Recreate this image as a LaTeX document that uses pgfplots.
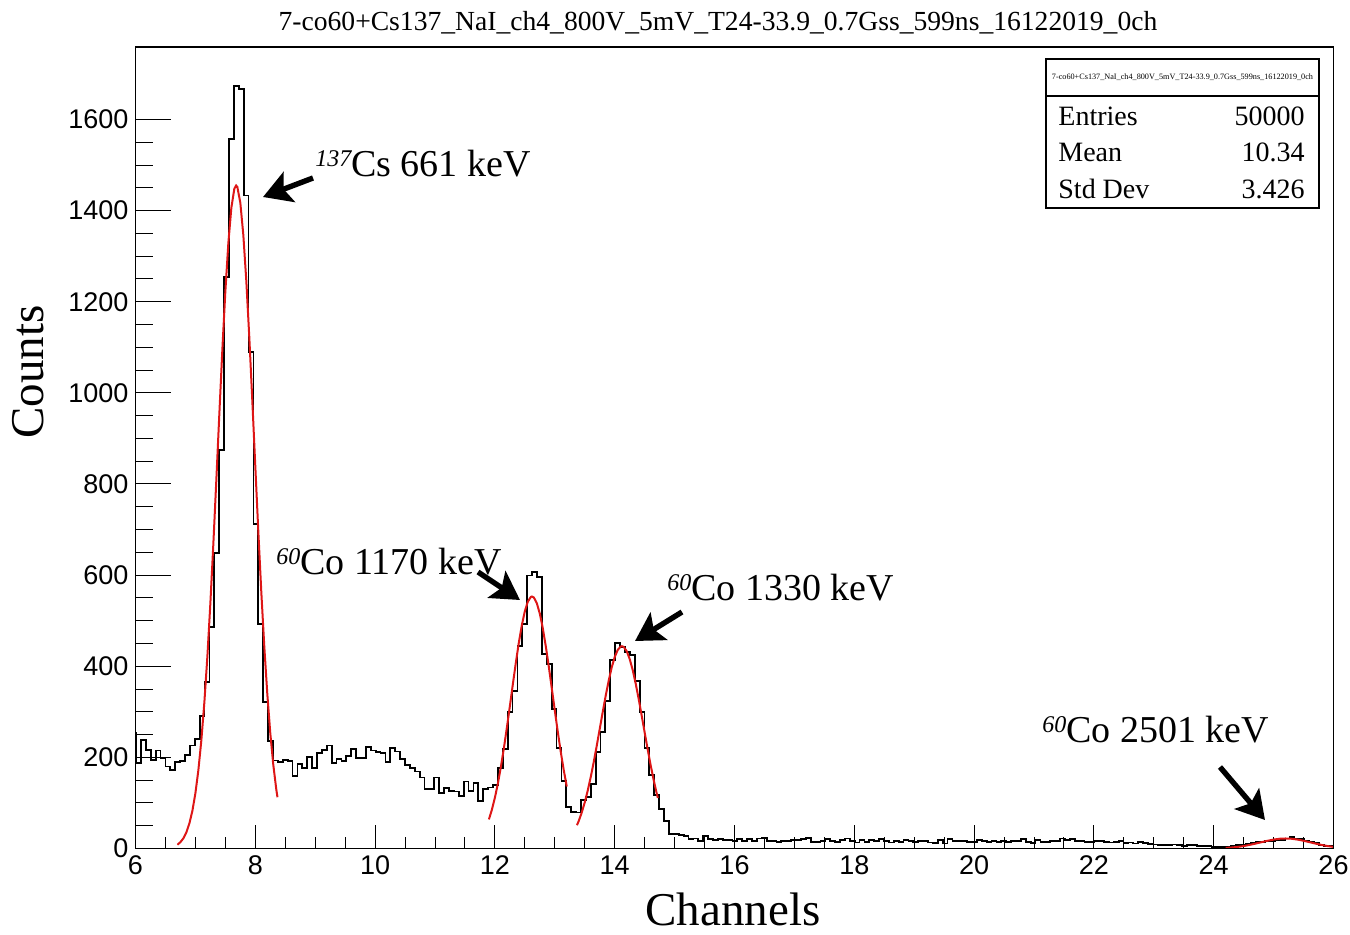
\documentclass[border=0pt]{standalone}
\usepackage{pgfplots}
\pgfplotsset{compat=1.18}
\usepackage{pgfplotstable}
\usepackage{fontspec}
\setmainfont{Liberation Serif}
\newfontfamily\sansf{Liberation Sans}
\usetikzlibrary{arrows.meta}
\definecolor{fitred}{RGB}{222,22,22}

\pgfplotstableread{
k c
-1 254
0 187
1 238
2 216
3 194
4 215
5 198
6 180
7 172
8 189
9 192
10 205
11 226
12 240
13 291
14 365
15 487
16 648
17 875
18 1254
19 1557
20 1674
21 1667
22 1433
23 1090
24 713
25 493
26 321
27 236
28 193
29 190
30 194
31 192
32 159
33 185
34 176
35 200
36 176
37 209
38 216
39 226
40 187
41 196
42 192
43 203
44 218
45 198
46 198
47 222
48 215
49 212
50 209
51 190
52 220
53 213
54 196
55 183
56 176
57 169
58 156
59 130
60 130
61 156
62 121
63 132
64 127
65 125
66 116
67 147
68 127
69 143
70 105
71 131
72 134
73 139
74 177
75 219
76 299
77 345
78 444
79 493
80 599
81 607
82 595
83 427
84 405
85 307
86 221
87 148
88 91
89 80
90 79
91 106
92 113
93 142
94 212
95 256
96 323
97 413
98 451
99 442
100 431
101 424
102 367
103 299
104 221
105 161
106 117
107 86
108 60
109 31
110 31
111 29
112 28
113 20
114 22
115 17
116 28
117 21
118 19
119 20
120 18
121 18
122 17
123 20
124 17
125 21
126 16
127 22
128 23
129 17
130 16
131 14
132 17
133 16
134 19
135 18
136 20
137 23
138 14
139 15
140 16
141 21
142 17
143 15
144 18
145 22
146 17
147 13
148 18
149 15
150 19
151 16
152 20
153 17
154 13
155 16
156 14
157 19
158 17
159 15
160 16
161 17
162 13
163 12
164 18
165 11
166 20
167 17
168 16
169 17
170 15
171 14
172 18
173 16
174 15
175 17
176 15
177 16
178 14
179 17
180 16
181 21
182 15
183 12
184 19
185 15
186 14
187 17
188 16
189 22
190 18
191 21
192 16
193 17
194 14
195 15
196 17
197 16
198 15
199 13
200 14
201 16
202 12
203 13
204 11
205 14
206 12
207 10
208 9
209 8
210 7
211 8
212 9
213 7
214 6
215 7
216 8
217 5
218 6
219 5
220 4
221 3
222 4
223 3
224 5
225 7
226 9
227 10
228 12
229 14
230 15
231 17
232 16
233 19
234 18
235 22
236 25
237 22
238 20
239 17
240 15
241 12
242 8
243 6
244 5
245 5
}\histdata

\begin{document}
\begin{tikzpicture}
\useasboundingbox (-67.75pt,-42.75pt) rectangle (607.25pt,424.25pt);
\begin{axis}[
  at={(0pt,0pt)}, anchor=south west,
  scale only axis, width=599pt, height=400.75pt,
  xmin=6, xmax=26, ymin=0, ymax=1759,
  xtick={6,8,...,26}, ytick={0,200,...,1600},
  minor x tick num=3, minor y tick num=3,
  major tick length=12pt, minor tick length=6pt,
  tick pos=left, tick align=inside,
  ticklabel style={font=\sansf\fontsize{13.5}{16}\selectfont},
  /pgf/number format/assume math mode=true,
  /pgf/number format/1000 sep={},
  axis line style={line width=0.6pt},
  tick style={line width=0.5pt, black},
]
\addplot[const plot, black, line width=0.9pt] table[x expr={6.011+0.0816*\thisrow{k}}, y=c] {\histdata};
\addplot[fitred, line width=1pt] coordinates {
(6.70,8.3)(6.75,13.9)(6.80,22.6)(6.85,35.8)(6.90,55.2)(6.95,82.9)(7.00,121.2)(7.05,172.3)(7.10,238.5)(7.15,321.4)(7.20,421.5)(7.25,538.4)(7.30,669.4)(7.35,810.2)(7.40,954.6)(7.45,1094.9)(7.50,1222.4)(7.55,1328.6)(7.60,1405.8)(7.65,1448)(7.68,1455)(7.70,1451.9)(7.75,1417.2)(7.80,1346.6)(7.85,1245.6)(7.90,1121.7)(7.95,983.3)(8.00,839.1)(8.05,697)(8.10,563.7)(8.15,443.8)(8.20,340)(8.25,253.6)(8.30,184.2)(8.35,130.2)(8.37,112.5)
};
\addplot[fitred, line width=1pt] coordinates {
(11.90,63.8)(11.95,85.2)(12.00,111.5)(12.05,142.8)(12.10,179.2)(12.15,220.3)(12.20,265.2)(12.25,312.6)(12.30,360.9)(12.35,408.1)(12.40,452)(12.45,490.3)(12.50,520.8)(12.55,541.8)(12.60,552.1)(12.62,553)(12.65,550.9)(12.70,538.4)(12.75,515.4)(12.80,483.2)(12.85,443.6)(12.90,398.9)(12.95,351.3)(13.00,303)(13.05,255.9)(13.10,211.7)(13.15,171.5)(13.20,136.1)
};
\addplot[fitred, line width=1pt] coordinates {
(13.37,51.1)(13.40,60.5)(13.45,79)(13.50,101.2)(13.55,127.3)(13.60,157)(13.65,189.9)(13.70,225.3)(13.75,262.3)(13.80,299.5)(13.85,335.4)(13.90,368.6)(13.95,397.3)(14.00,420.1)(14.05,435.7)(14.10,443.3)(14.12,444)(14.15,442.5)(14.20,433.2)(14.25,416)(14.30,392)(14.35,362.3)(14.40,328.4)(14.45,292.1)(14.50,254.8)(14.55,218.1)(14.60,183)(14.65,150.7)(14.70,121.7)(14.72,111)
};
\addplot[fitred, line width=1pt] coordinates {
(24.2,1.3)(24.3,2.2)(24.4,3.5)(24.5,5.4)(24.6,7.9)(24.7,10.8)(24.8,13.9)(24.9,17.0)(25.0,19.6)(25.1,21.4)(25.2,22)(25.3,21.4)(25.4,19.6)(25.5,17.0)(25.6,13.9)(25.7,10.8)(25.8,7.9)(25.9,5.4)(26.0,3.5)
};
\end{axis}
\begin{axis}[
  at={(0pt,0pt)}, anchor=south west,
  scale only axis, width=599pt, height=400.75pt,
  xmin=6, xmax=26, ymin=0, ymax=1759,
  xtick=\empty, ytick={0,200,...,1600}, yticklabels={},
  minor y tick num=3,
  major tick length=18pt, minor tick length=9pt,
  tick pos=left, tick align=inside,
  axis line style={line width=0.6pt},
  tick style={line width=0.5pt, black},
]
\end{axis}
% title and axis labels
\node[anchor=base, inner sep=0, font=\fontsize{13.8}{16}\selectfont] at (291.25pt,409.25pt)
  {7-co60+Cs137\_NaI\_ch4\_800V\_5mV\_T24-33.9\_0.7Gss\_599ns\_16122019\_0ch};
\node[anchor=base, inner sep=0, font=\fontsize{23.5}{26}\selectfont] at (298.75pt,-38.3pt) {Channels};
\node[anchor=base, inner sep=0, rotate=90, font=\fontsize{23.5}{26}\selectfont] at (-45.75pt,238.25pt) {Counts};
% stats box
\draw[line width=0.6pt, fill=white] (455.25pt,320.25pt) rectangle (591.75pt,394.75pt);
\draw[line width=0.6pt] (455.25pt,376.25pt) -- (591.75pt,376.25pt);
\node[inner sep=0, font=\fontsize{4.1}{5}\selectfont] at (523.5pt,385.5pt)
  {7-co60+Cs137\_NaI\_ch4\_800V\_5mV\_T24-33.9\_0.7Gss\_599ns\_16122019\_0ch};
\begin{scope}[every node/.style={inner sep=0, font=\fontsize{14}{16}\selectfont}]
\node[anchor=base west] at (461.25pt,361.75pt) {Entries};
\node[anchor=base east] at (584.75pt,361.75pt) {50000};
\node[anchor=base west] at (461.25pt,343.4pt) {Mean};
\node[anchor=base east] at (584.75pt,343.4pt) {10.34};
\node[anchor=base west] at (461.25pt,325.25pt) {Std Dev};
\node[anchor=base east] at (584.75pt,325.25pt) {3.426};
\end{scope}
% annotations
\begin{scope}[every node/.style={inner sep=0, anchor=base west, font=\fontsize{19}{22}\selectfont}]
\node at (89.75pt,336.25pt) {\raisebox{5pt}{\fontsize{12}{12}\selectfont\itshape 137}Cs 661 keV};
\node at (70.25pt,137pt) {\raisebox{5pt}{\fontsize{12}{12}\selectfont\itshape 60}Co 1170 keV};
\node at (265.75pt,124.25pt) {\raisebox{5pt}{\fontsize{12}{12}\selectfont\itshape 60}Co 1330 keV};
\node at (453.25pt,53.25pt) {\raisebox{5pt}{\fontsize{12}{12}\selectfont\itshape 60}Co 2501 keV};
\end{scope}
\begin{scope}[line width=2.7pt, -{Stealth[length=14pt,width=16pt,inset=3pt]}]
\draw (88.75pt,335.25pt) -- (63.75pt,325.75pt);
\draw (171.25pt,138.25pt) -- (192.25pt,124.25pt);
\draw (273.25pt,118.25pt) -- (249.75pt,103.75pt);
\draw (542.25pt,40.75pt) -- (564.75pt,14.25pt);
\end{scope}
\end{tikzpicture}
\end{document}
